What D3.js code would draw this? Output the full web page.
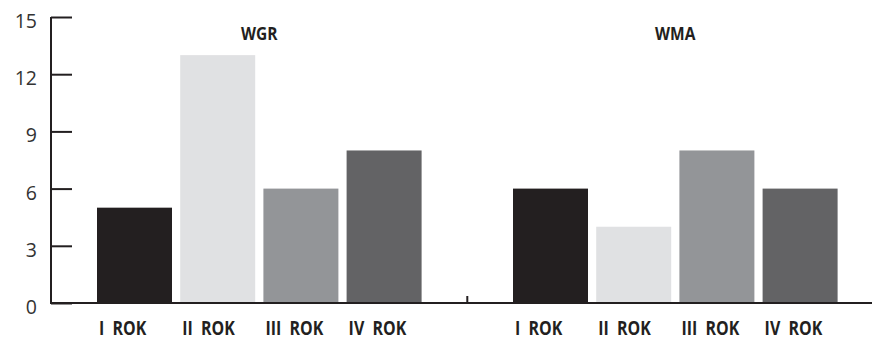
<!DOCTYPE html>
<html>
<head>
<meta charset="utf-8">
<script src="https://cdn.jsdelivr.net/npm/d3@7"></script>
<style>
  body { margin: 0; background: #fff; }
  svg text { white-space: pre; }
</style>
</head>
<body>
<div id="chart"></div>
<script>
// data
const groups = ["WGR", "WMA"]
const years = ["I  ROK", "II  ROK", "III  ROK", "IV  ROK"]
const wgr = [5, 13, 6, 8]
const wma = [6, 4, 8, 6]
const yTicks = [0, 3, 6, 9, 12, 15]
const barColors = ["#231f20", "#e0e1e3", "#939598", "#636365"]

const width = 872, height = 340

const svg = d3.select("#chart")
  .append("svg")
    .attr("width", width)
    .attr("height", height)

// one band per slot, with an empty slot between the two groups
const slots = []
groups.forEach((g, gi) => {
  if (gi > 0) slots.push("gap")
  years.forEach(y => slots.push(g + "|" + y))
})

const x = d3.scaleBand()
  .domain(slots)
  .range([97, 837.6])
  .paddingInner(0.0986)
  .paddingOuter(0)

const y = d3.scaleLinear()
  .domain([0, 15])
  .range([303, 17])

const series = {WGR: wgr, WMA: wma}
const bars = []
groups.forEach(g => {
  years.forEach((yr, i) => bars.push({group: g, year: yr, idx: i, value: series[g][i]}))
})

svg.selectAll("rect.bar")
  .data(bars)
  .join("rect")
    .attr("class", "bar")
    .attr("x", d => x(d.group + "|" + d.year))
    .attr("width", x.bandwidth())
    .attr("y", d => y(d.value))
    .attr("height", d => y(0) - y(d.value))
    .attr("fill", d => barColors[d.idx])

// y axis
const yAxis = svg.append("g")
  .attr("transform", "translate(51,0)")
  .call(d3.axisRight(y).tickValues(yTicks).tickSize(21).tickPadding(0).tickFormat(""))
yAxis.select(".domain")
  .attr("d", `M0,${y(15)}V${y(0)}`)
  .attr("stroke", "#231f20")
  .attr("stroke-width", 2)
yAxis.selectAll(".tick line").attr("stroke", "#231f20").attr("stroke-width", 2)

svg.selectAll("text.ytick")
  .data(yTicks)
  .join("text")
    .attr("class", "ytick")
    .attr("x", 37)
    .attr("y", d => y(d) + 11)
    .attr("text-anchor", "end")
    .style("font-family", "'Open Sans', 'DejaVu Sans', sans-serif")
    .style("font-weight", "400")
    .style("font-size", "19.5px")
    .style("fill", "#333")
    .text(d => d)

// baseline
svg.append("line")
  .attr("x1", 50).attr("x2", width)
  .attr("y1", y(0)).attr("y2", y(0))
  .attr("stroke", "#231f20")
  .attr("stroke-width", 2)

// small divider tick between the groups
const gapMid = x("gap") + x.bandwidth() / 2
svg.append("line")
  .attr("x1", gapMid).attr("x2", gapMid)
  .attr("y1", y(0) - 7).attr("y2", y(0))
  .attr("stroke", "#231f20")
  .attr("stroke-width", 2)

// condensed bold look: Open Sans Bold squeezed horizontally
const boldFont = "'Open Sans', 'DejaVu Sans', sans-serif"

// labels sit roughly at the left edge of each bar
svg.selectAll("text.xlab")
  .data(bars)
  .join("text")
    .attr("class", "xlab")
    .attr("transform", d => `translate(${x(d.group + "|" + d.year) + 2},335) scale(0.84,1)`)
    .attr("text-anchor", "start")
    .style("font-family", boldFont)
    .style("font-weight", "bold")
    .style("font-size", "19px")
    .style("fill", "#231f20")
    .text(d => d.year)

// group titles
svg.selectAll("text.gtitle")
  .data(groups)
  .join("text")
    .attr("class", "gtitle")
    .attr("transform", g => `translate(${(x(g + "|" + years[0]) + x(g + "|" + years[3]) + x.bandwidth()) / 2},40) scale(0.84,1)`)
    .attr("text-anchor", "middle")
    .style("font-family", boldFont)
    .style("font-weight", "bold")
    .style("font-size", "18.5px")
    .style("fill", "#231f20")
    .text(g => g)
</script>
</body>
</html>
